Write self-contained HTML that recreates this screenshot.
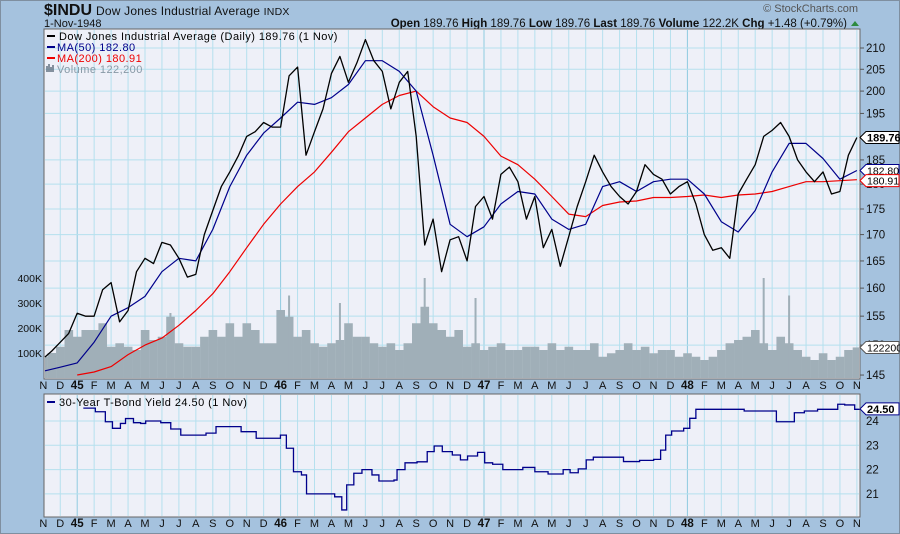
<!DOCTYPE html>
<html><head><meta charset="utf-8"><style>
html,body{margin:0;padding:0;background:#a5c2de;}
svg{display:block;font-family:"Liberation Sans",sans-serif;}
</style></head><body>
<svg id="c" width="900" height="534" viewBox="0 0 900 534" xmlns="http://www.w3.org/2000/svg">
<rect x="0" y="0" width="900" height="534" fill="#a5c2de"/>
<rect x="0.5" y="0.5" width="899" height="533" fill="none" stroke="#7f8fa0"/>
<text x="44" y="15" font-size="16" font-weight="bold" fill="#111">$INDU</text>
<text x="96" y="15" font-size="12" fill="#111" letter-spacing="0.2">Dow Jones Industrial Average <tspan font-size="10.5">INDX</tspan></text>
<text x="44" y="27" font-size="11" fill="#111">1-Nov-1948</text>
<text x="858" y="12" font-size="11" fill="#555" text-anchor="end">© StockCharts.com</text>
<text x="847" y="27" font-size="11.5" fill="#111" text-anchor="end"><tspan font-weight="bold">Open</tspan> 189.76  <tspan font-weight="bold">High</tspan> 189.76  <tspan font-weight="bold">Low</tspan> 189.76  <tspan font-weight="bold">Last</tspan> 189.76  <tspan font-weight="bold">Volume</tspan> 122.2K  <tspan font-weight="bold">Chg</tspan> +1.48 (+0.79%)</text>
<path d="M851 26 L855 21 L859 26 Z" fill="#2e8b3e"/>
<rect x="44" y="29" width="816" height="350" fill="#eef0f8" stroke="#666"/>
<rect x="44" y="394" width="816" height="123" fill="#eef0f8" stroke="#666"/>
<g id="grid"></g><g id="vol"></g><g id="series"></g><g id="axes"></g>
<g font-size="11" letter-spacing="0.45">
<line x1="47" y1="36" x2="55" y2="36" stroke="#000" stroke-width="2"/><text x="59" y="40" fill="#000">Dow Jones Industrial Average (Daily) 189.76 (1 Nov)</text>
<line x1="47" y1="47" x2="55" y2="47" stroke="#00008b" stroke-width="2"/><text x="57" y="51" fill="#00008b">MA(50) 182.80</text>
<line x1="47" y1="58" x2="55" y2="58" stroke="#e00" stroke-width="2"/><text x="57" y="62" fill="#e00">MA(200) 180.91</text>
<path d="M47 72V66M49 72V64M51 72V67M53 72V65" stroke="#607080" stroke-width="1.5"/><text x="57" y="73" fill="#8899a6">Volume 122,200</text>
</g>
<g font-size="11" letter-spacing="0.45">
<line x1="47" y1="402" x2="55" y2="402" stroke="#00008b" stroke-width="2"/><text x="59" y="406" fill="#000">30-Year T-Bond Yield 24.50 (1 Nov)</text>
</g>
</svg>
<script>
var priceVals=[148,149,150.5,152,155.5,155,155,159.7,161,154,156,163,165.5,164.5,168.5,168,165.5,162,162.5,170,174.7,179.5,182.5,185.8,190,191,193,192,192,203.5,205.5,186,191,196,204,208,202,206.5,212,207,204.5,196,202,204.5,190,168,173,163,169,169.6,165,175.5,177.5,173,182,183.5,180.5,173,177.5,167.5,171,164,169.6,175.5,180.5,186,182.5,179.5,177.5,176,178.5,184,182,181,178,179.5,180.5,176,170,167,167.5,165.5,178,181,184,190,191.3,193,190,185,182.5,180.5,182.5,178,178.5,186,189.76];
var ma50Vals=[145.7,146.3,147,150.5,155,156.5,158.5,163,165.5,165,171,179.5,186,190.7,194,197.5,197,198.5,201.5,207,207,204.5,200,186,172,169.6,171.5,176,178.5,178,173,171,172,179.5,180.5,178.5,180.5,181,181,178,172.5,170.5,174.7,182.5,188.5,188.5,185.3,181,182.8];
var ma200Start=2;
var ma200Vals=[145,145.5,146.4,148.4,150,151.2,153.4,156,159,163,167.5,172,176,179.5,182.5,186.6,191,194,197,199,200,196.5,194,193,190,185.8,184,181,177.5,174,173.5,175.7,176.4,176.6,177.3,177.3,177.5,177.8,177.3,177.8,178,178.5,179.5,180.5,180.5,180.7,180.91];
var volVals=[85,100,125,192,165,192,192,219,125,139,125,112,192,152,165,245,139,125,125,165,192,165,219,165,219,192,139,139,272,245,165,192,139,125,139,152,219,165,165,139,125,139,112,139,219,285,219,192,165,192,125,139,112,125,139,112,112,125,125,112,139,112,125,112,112,139,85,99,112,139,112,125,99,112,112,85,99,85,72,85,112,139,152,165,192,139,112,165,139,112,85,72,99,72,85,112,122.2];
var volSpikeMonths=[7.5,14.5,17.5,22.5,25.5,42.5,44];
var volSpikeVals=[260,330,300,400,320,400,330];
var yieldMonths=[2.36,3.07,3.66,4.08,4.55,4.85,5.32,5.74,6.04,6.93,7.52,8.11,9.18,9.6,10.19,10.96,11.67,12.56,13.45,13.99,14.34,14.76,15.23,15.53,16.6,17.19,17.61,17.9,18.32,18.8,19.39,19.8,20.69,20.87,21.34,22.05,22.65,23.06,23.54,24.13,24.61,25.03,25.62,26.04,26.51,27.11,28.29,29,29.78,30.67,31.08,31.56,32.03,32.45,33.87,34.23,35.18,36.01,36.42,36.72,37.07,37.78,38.14,38.5,41.17,41.35,42.83,43.25,43.84,44.31,44.9,45.68,46.69,46.87,47.28,47.87,48.2];
var yieldVals=[24.53,24.38,23.97,23.7,23.9,24.1,23.93,23.9,24,23.93,23.67,23.42,23.42,23.5,23.77,23.77,23.56,23.29,23.29,23.42,22.88,21.91,21.78,21,21,20.88,20.34,21.37,21.85,22,21.78,21.53,21.57,22,22.28,22.32,22.74,22.97,22.74,22.6,22.4,22.56,22.71,22.28,22.22,22,22.09,21.91,21.82,22,21.87,22.03,22.4,22.51,22.51,22.33,22.38,22.42,22.8,23.42,23.59,23.7,24.11,24.48,24.48,24.41,24.41,23.97,23.97,24.34,24.41,24.48,24.48,24.69,24.66,24.48,24.5];
var priceTicks=[145,150,155,160,165,170,175,180,185,190,195,200,205,210];
var yieldTicks=[21,22,23,24];
var volTicks=[100,200,300,400];
var volTickLabels=["100K","200K","300K","400K"];
var monthLabels=["N","D","45","F","M","A","M","J","J","A","S","O","N","D","46","F","M","A","M","J","J","A","S","O","N","D","47","F","M","A","M","J","J","A","S","O","N","D","48","F","M","A","M","J","J","A","S","O","N"];

var NS="http://www.w3.org/2000/svg";
function xM(m){return 43.3+m*16.95;}
function yP(v){return 48+883*Math.log(210/v);}
function yV(v){return 378-v*0.25;}
function yY(v){return 421+(24-v)*24.3;}
function mk(t,a,p){var e=document.createElementNS(NS,t);for(var k in a)e.setAttribute(k,a[k]);p.appendChild(e);return e;}
var grid=document.getElementById('grid'),vol=document.getElementById('vol'),ser=document.getElementById('series'),ax=document.getElementById('axes');

for(var i=0;i<monthLabels.length;i++){
  var x=xM(i),yr=/\d/.test(monthLabels[i]);
  if(x<45||x>859)continue;
  var g1=mk('line',{x1:x,y1:30,x2:x,y2:378,stroke:yr?'#8fcbe0':'#b5e0ee','stroke-width':1},grid);
  
  var g2=mk('line',{x1:x,y1:395,x2:x,y2:516,stroke:yr?'#8fcbe0':'#b5e0ee','stroke-width':1},grid);
  
}
priceTicks.forEach(function(v){var y=yP(v);
  var l=mk('line',{x1:45,y1:y,x2:859,y2:y,stroke:'#b5e0ee'},grid);
  
  var tk=mk('line',{x1:860,y1:y,x2:864,y2:y,stroke:'#555'},ax);
  
  var t=mk('text',{x:866,y:y+4,'font-size':11.5,fill:'#111'},ax);t.textContent=v;
  });
yieldTicks.forEach(function(v){var y=yY(v);
  var l=mk('line',{x1:45,y1:y,x2:859,y2:y,stroke:'#b5e0ee'},grid);
  
  var t=mk('text',{x:866,y:y+4,'font-size':11.5,fill:'#111'},ax);t.textContent=v;
  });
volTicks.forEach(function(v,i){var y=yV(v);
  var t=mk('text',{x:42,y:y+4,'font-size':10.5,fill:'#111','text-anchor':'end'},ax);t.textContent=volTickLabels[i];
  });
monthLabels.forEach(function(s,i){var x=xM(i);if(x<40||x>862)return;var yr=/\d/.test(s);
  [389,527].forEach(function(yy){var t=mk('text',{x:x,y:yy,'font-size':yr?11.5:11,'font-weight':yr?'bold':'normal',fill:'#111','text-anchor':'middle'},ax);t.textContent=s;
  });});

volVals.forEach(function(v,i){var x0=xM(i/2)-4.2;var x1=Math.min(859,x0+8.6);x0=Math.max(45,x0);
  var r=mk('rect',{x:x0,y:yV(v),width:x1-x0,height:378-yV(v),fill:'#a0afb8'},vol);
  });
volSpikeVals.forEach(function(v,i){var x=xM(volSpikeMonths[i]);
  var r=mk('rect',{x:x-1,y:yV(v),width:2,height:378-yV(v),fill:'#a0afb8'},vol);
  });

function line(vals,xf,yf,col,w,name){var d='';vals.forEach(function(v,i){var x=Math.max(45,Math.min(859,xf(i)));d+=(i?'L':'M')+x.toFixed(1)+' '+yf(v).toFixed(1);});
  var p=mk('path',{d:d,fill:'none',stroke:col,'stroke-width':w,'stroke-linejoin':'round'},ser);
  }
line(ma200Vals,function(i){return xM(ma200Start+i);},yP,'#e00',1.2,'ma200-line');
line(ma50Vals,function(i){return xM(i);},yP,'#00008b',1.2,'ma50-line');
line(priceVals,function(i){return xM(i/2);},yP,'#000',1.3,'price-line');
(function(){var d='';yieldVals.forEach(function(v,i){var x=Math.min(859,xM(yieldMonths[i])),y=yY(v);
  if(i===0)d='M'+x+' '+y;else d+='H'+x+'V'+y;});
  var p=mk('path',{d:d,fill:'none',stroke:'#00008b','stroke-width':1.3},ser);
  })();

function tag(y,txt,col,bold,name){var g=mk('g',{},ax);
  
  mk('path',{d:'M860 '+y+' L866 '+(y-6)+' H899 V'+(y+6)+' H866 Z',fill:'#fff',stroke:col,'stroke-width':1},g);
  var t=mk('text',{x:867,y:y+4,'font-size':bold?11:10.5,'font-weight':bold?'bold':'normal',fill:'#000'},g);t.textContent=txt;}
tag(yP(priceVals[priceVals.length-1]),'189.76','#000',true,'last-price-tag');
tag(yP(ma50Vals[ma50Vals.length-1]),'182.80','#00008b',false,'ma50-tag');
tag(yP(ma200Vals[ma200Vals.length-1])+1,'180.91','#e00',false,'ma200-tag');
tag(yV(volVals[volVals.length-1]),'122200','#555',false,'volume-tag');
tag(yY(yieldVals[yieldVals.length-1]),'24.50','#00008b',true,'yield-tag');
</script>
</body></html>
